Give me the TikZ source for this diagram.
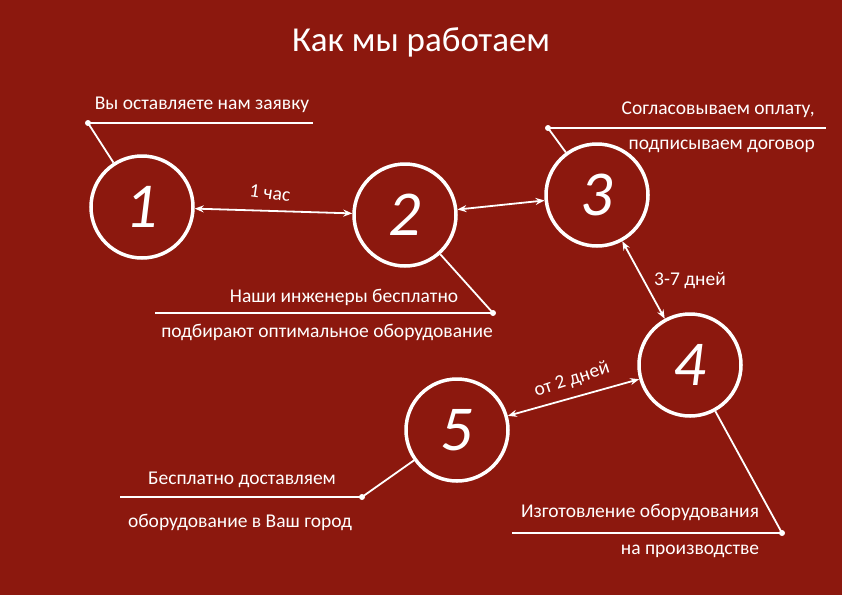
\documentclass[tikz,border=0pt]{standalone}
\usepackage{fontspec}
\setmainfont{Carlito}
\usetikzlibrary{arrows.meta}
\definecolor{bg}{RGB}{140,24,14}
\begin{document}
\begin{tikzpicture}[x=1pt,y=-1pt,
  circ/.style={circle,draw=white,line width=3.5pt,minimum size=102pt,text=white,font=\fontsize{64}{64}\selectfont\itshape},
  lbl/.style={text=white,font=\fontsize{19.5}{19.5}\selectfont,inner sep=0pt},
  ln/.style={draw=white,line width=1.8pt},
  arr/.style={draw=white,line width=1.8pt,{Stealth[length=9pt,width=7pt]}-{Stealth[length=9pt,width=7pt]}},
  dot/.style={circle,fill=white,inner sep=0pt,minimum size=6pt}]
\fill[bg] (0,0) rectangle (842,595);
\useasboundingbox (0,0) rectangle (842,595);
\node[text=white,font=\fontsize{35}{35}\selectfont] (title) at (421,42) {Как мы работаем};
\node[circ] (c1) at (142,207) {1};
\node[circ] (c2) at (405,215) {2};
\node[circ] (c3) at (597,195) {3};
\node[circ] (c4) at (690,365) {4};
\node[circ] (c5) at (457,430) {5};
% 1
\node[lbl] (t1) at (202,105) {Вы оставляете нам заявку};
\node[dot] (d1) at (88,123) {};
\coordinate (e1) at (313,123);
\draw[ln] (d1.center) -- (e1);
\draw[ln] (d1.center) -- (c1);
% 3
\node[lbl,anchor=east] (t3a) at (815,110) {Согласовываем оплату,};
\node[lbl,anchor=east] (t3b) at (815,146) {подписываем договор};
\node[dot] (d3) at (548,128) {};
\coordinate (e3) at (826,128);
\draw[ln] (d3.center) -- (e3);
\draw[ln] (d3.center) -- (c3);
% 2
\node[lbl] (t2a) at (344,297) {Наши инженеры бесплатно};
\node[lbl] (t2b) at (327,332) {подбирают оптимальное оборудование};
\node[dot] (d2) at (493,313) {};
\coordinate (e2) at (155,313);
\draw[ln] (e2) -- (d2.center);
\draw[ln] (d2.center) -- (c2);
% 5
\node[lbl] (t5a) at (242,480) {Бесплатно доставляем};
\node[lbl] (t5b) at (240,522) {оборудование в Ваш город};
\node[dot] (d5) at (362,497) {};
\coordinate (e5) at (120,497);
\draw[ln] (e5) -- (d5.center);
\draw[ln] (d5.center) -- (c5);
% 4
\node[lbl] (t4a) at (640,512) {Изготовление оборудования};
\node[lbl] (t4b) at (690,551) {на производстве};
\node[dot] (d4) at (782,533) {};
\coordinate (e4) at (512,533);
\draw[ln] (e4) -- (d4.center);
\draw[ln] (d4.center) -- (c4);
% arrows
\draw[arr] (c1) -- (c2);
\node[lbl,rotate=-8] (h1) at (270,193) {1 час};
\draw[arr] (c2) -- (c3);
\draw[arr] (c3) -- (c4);
\node[lbl] (h34) at (690,281) {3-7 дней};
\draw[arr] (c5) -- (c4);
\node[lbl,rotate=18] (h54) at (572,380) {от 2 дней};
\end{tikzpicture}
\end{document}
